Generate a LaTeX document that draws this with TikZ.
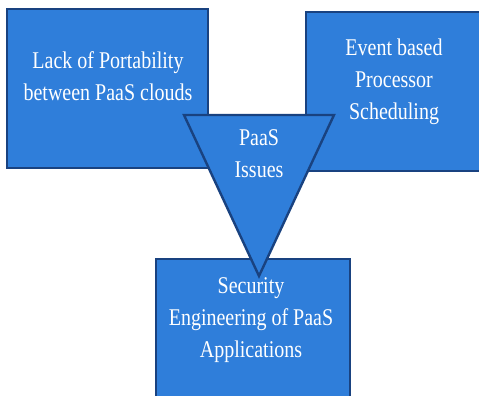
\documentclass[tikz,border=0pt]{standalone}
\usepackage{fontspec}
\usepackage{graphicx}
\setmainfont{Liberation Serif}
\definecolor{boxfill}{RGB}{47,126,218}
\definecolor{boxline}{RGB}{25,66,128}
\newcommand\vtxt[1]{\scalebox{1}[1.2]{\fontsize{20}{27}\selectfont\begin{tabular}{@{}c@{}}#1\end{tabular}}}
\tikzset{
  pbox/.style={draw=boxline, fill=boxfill, line width=2.4pt, inner sep=0pt},
  ptext/.style={text=white, inner sep=0pt}
}
\begin{document}
\begin{tikzpicture}[x=1pt,y=1pt]
\useasboundingbox (0,0) rectangle (479,-396);
\clip (0,0) rectangle (479,-396);
% boxes
\node[pbox, minimum width=201pt, minimum height=159pt] (left) at (107.5,-88.5) {};
\node[pbox, minimum width=190pt, minimum height=159pt] (right) at (401,-91.5) {};
\node[pbox, minimum width=194pt, minimum height=150pt] (bottom) at (253,-334) {};
% triangle
\coordinate (tl) at (184,-115);
\coordinate (tr) at (334,-115);
\coordinate (tb) at (259,-276);
\draw[pbox, line join=miter] (tl) -- (tr) -- (tb) -- cycle;
% texts
\node[ptext] (lefttext) at (108,-78) {\vtxt{Lack of Portability\\between PaaS clouds}};
\node[ptext] (righttext) at (394,-81) {\vtxt{Event based\\Processor\\Scheduling}};
\node[ptext] (tritext) at (259,-155) {\vtxt{PaaS\\Issues}};
\node[ptext] (bottomtext) at (251,-319) {\vtxt{Security\\Engineering of PaaS\\Applications}};
\end{tikzpicture}
\end{document}
